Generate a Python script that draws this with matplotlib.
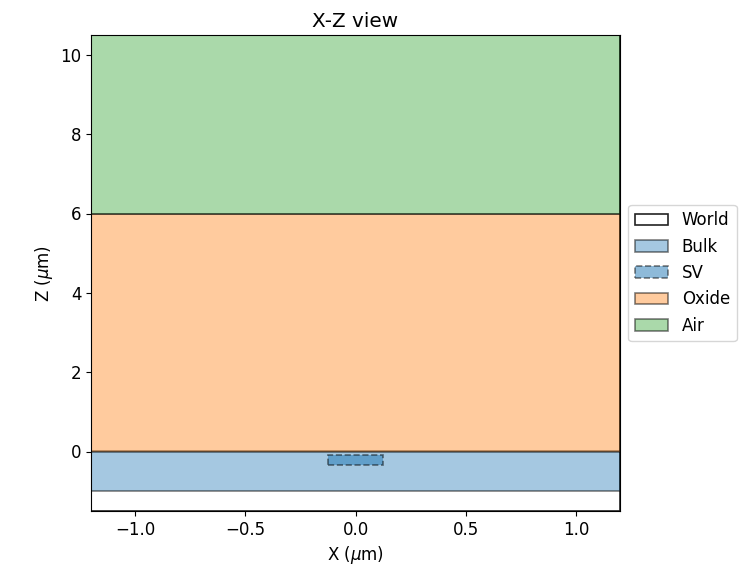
import matplotlib
matplotlib.use('Agg')
import matplotlib.pyplot as plt
from matplotlib.patches import Rectangle

plt.rcParams['font.size'] = 12

# regions: name, (xmin, xmax), (zmin, zmax), color, linestyle
names = ['World', 'Bulk', 'SV', 'Oxide', 'Air']
x_ranges = [(-1.2, 1.2), (-1.2, 1.2), (-0.125, 0.125), (-1.2, 1.2), (-1.2, 1.2)]
z_ranges = [(-1.5, 10.5), (-1.0, 0.0), (-0.35, -0.1), (0.0, 6.0), (6.0, 10.5)]
colors = ['white', 'tab:blue', 'tab:blue', 'tab:orange', 'tab:green']
styles = ['-', '-', '--', '-', '-']
alphas = [1.0, 0.4, 0.5, 0.4, 0.4]

fig = plt.figure(figsize=(7.46, 5.7), dpi=100)
ax = fig.add_axes([91 / 746, 1 - 511 / 570, 529 / 746, 476 / 570])

for name, xr, zr, c, ls, a in zip(names, x_ranges, z_ranges, colors, styles, alphas):
    fc = matplotlib.colors.to_rgba(c, a)
    ec = '#222222' if name == 'World' else (0, 0, 0, 0.5)
    r = Rectangle((xr[0], zr[0]), xr[1] - xr[0], zr[1] - zr[0],
                  facecolor=fc, edgecolor=ec, linestyle=ls, linewidth=1.2,
                  label=name)
    ax.add_patch(r)

ax.set_xlim(-1.2, 1.2)
ax.set_ylim(-1.5, 10.5)
ax.set_xlabel(r'X ($\mu$m)')
ax.set_ylabel(r'Z ($\mu$m)')
ax.set_title('X-Z view')
ax.legend(loc='center left', bbox_to_anchor=(1.0, 0.5), borderaxespad=0.5)

fig.savefig('out.png', dpi=100)
